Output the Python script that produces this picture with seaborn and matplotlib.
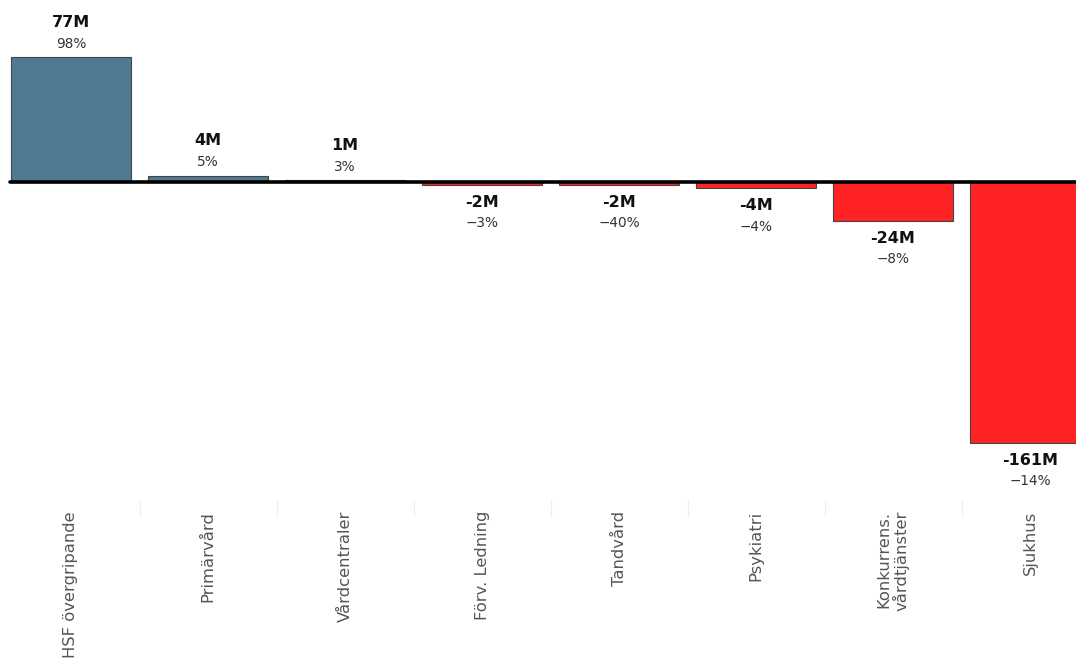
import matplotlib
matplotlib.use("Agg")
import matplotlib.pyplot as plt
import seaborn as sns
import pandas as pd

# Result per area (MSEK) and deviation in percent
categories = ["HSF övergripande", "Primärvård", "Vårdcentraler", "Förv. Ledning",
              "Tandvård", "Psykiatri", "Konkurrens.\nvårdtjänster", "Sjukhus"]
values = [77, 4, 1, -2, -2, -4, -24, -161]
percent_labels = ["98%", "5%", "3%", "\u22123%", "\u221240%", "\u22124%", "\u22128%", "\u221214%"]

POS_COLOR = "#4f7a91"
NEG_COLOR = "#ff2326"

df = pd.DataFrame({"area": categories, "value": values})
colors = [POS_COLOR if v >= 0 else NEG_COLOR for v in values]

sns.set_theme(style="white")
plt.rcParams["font.family"] = ["DejaVu Sans"]

W, H = 1076, 661
fig = plt.figure(figsize=(W / 100, H / 100), dpi=100)
# axes occupies the full width and the upper 500 px
ax = fig.add_axes([0, (H - 500) / H, 1, 500 / H])

sns.barplot(data=df, x="area", y="value", hue="area", palette=colors, saturation=1,
            legend=False, width=0.87, edgecolor="#444444", linewidth=0.8, ax=ax)

step = 137.0
ax.set_xlim(-71 / step, (W - 71) / step)
scale = 1.623  # px per M
ax.set_ylim(-(500 - 182) / scale, 182 / scale)

ax.axhline(0, xmin=10 / W, xmax=1, color="black", lw=2.6, zorder=5)

for i, (v, p) in enumerate(zip(values, percent_labels)):
    if v >= 0:
        ax.annotate(f"{v}M", (i, v), xytext=(0, 25), textcoords="offset points",
                    ha="center", va="center", fontsize=11.5, fontweight="bold", color="#111111")
        ax.annotate(p, (i, v), xytext=(0, 9.5), textcoords="offset points",
                    ha="center", va="center", fontsize=9.8, color="#333333")
    else:
        ax.annotate(f"{v}M", (i, v), xytext=(0, -12.5), textcoords="offset points",
                    ha="center", va="center", fontsize=11.5, fontweight="bold", color="#111111")
        ax.annotate(p, (i, v), xytext=(0, -27.5), textcoords="offset points",
                    ha="center", va="center", fontsize=9.8, color="#333333")

ax.set_xlabel("")
ax.set_ylabel("")
ax.set_yticks([])
for s in ax.spines.values():
    s.set_visible(False)

ax.set_xticks(range(len(categories)))
ax.set_xticklabels(categories, rotation=90, ha="center", va="top",
                   multialignment="right", fontsize=11.8, color="#555555",
                   linespacing=1.1)
ax.tick_params(axis="x", length=0, pad=8)

# faint separators between categories
ax.set_xticks([i + 0.5 for i in range(len(categories) - 1)], minor=True)
ax.tick_params(axis="x", which="minor", length=12, width=0.8, color="#eeeeee",
               direction="out", bottom=True)

fig.savefig("out.png", dpi=100, facecolor="white")
